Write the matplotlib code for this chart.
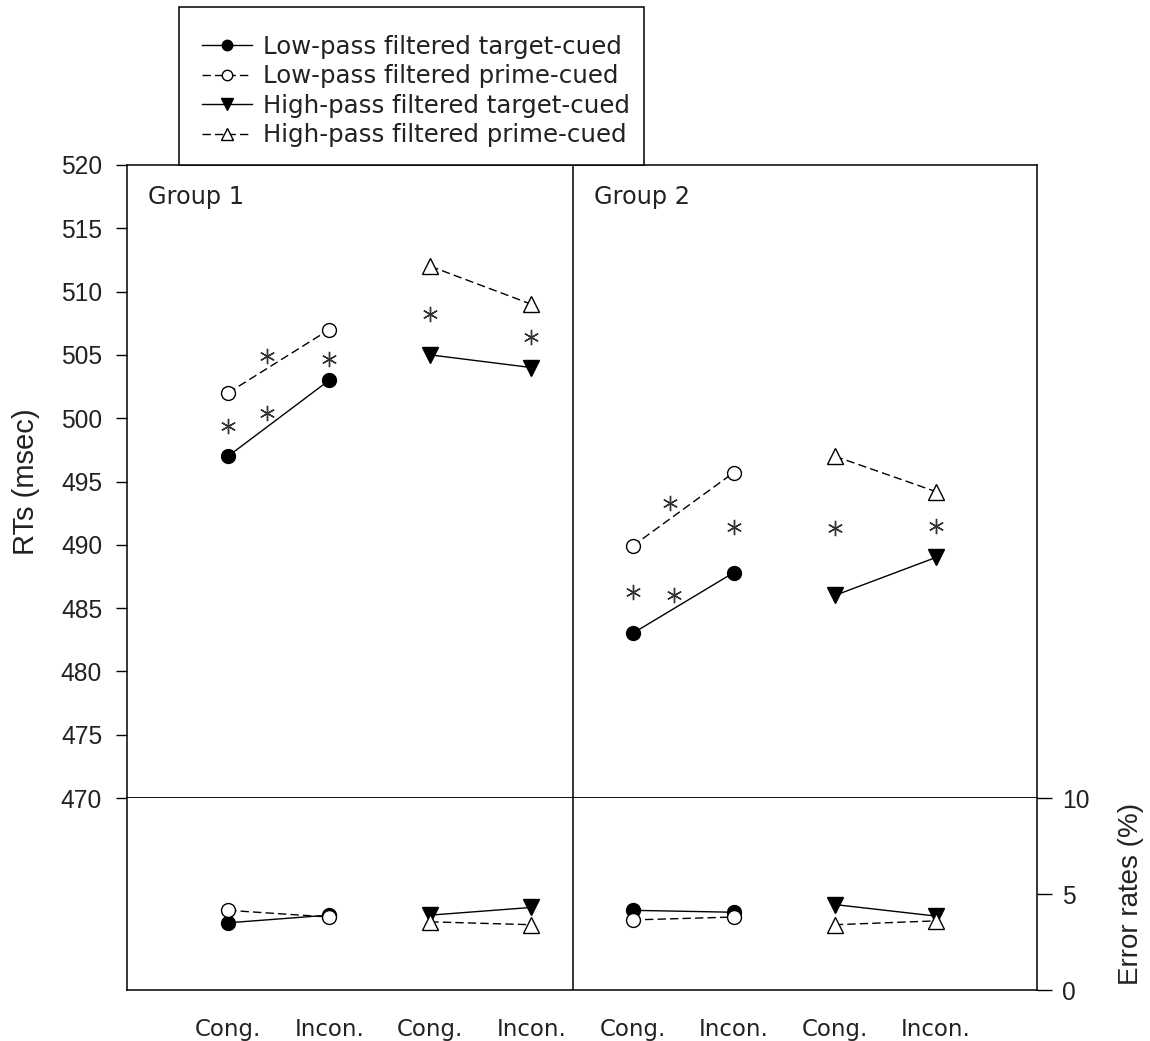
import numpy as np
import matplotlib
matplotlib.use("Agg")
import matplotlib.pyplot as plt
from matplotlib.lines import Line2D
from matplotlib.patches import Rectangle

# ---- data -------------------------------------------------------------
conditions = ["Cong.", "Incon.", "Cong.", "Incon.", "Cong.", "Incon.", "Cong.", "Incon."]
positions = np.arange(1, 9)
nan = np.nan

series_labels = [
    "Low-pass filtered target-cued",
    "Low-pass filtered prime-cued",
    "High-pass filtered target-cued",
    "High-pass filtered prime-cued",
]

# reaction times (msec); low-pass at positions 1,2,5,6 and high-pass at 3,4,7,8
rt_lp_target = [497.0, 503.0, nan, nan, 483.0, 487.8, nan, nan]
rt_lp_prime = [502.0, 507.0, nan, nan, 489.9, 495.7, nan, nan]
rt_hp_target = [nan, nan, 505.0, 504.0, nan, nan, 486.0, 489.0]
rt_hp_prime = [nan, nan, 512.0, 509.0, nan, nan, 497.0, 494.2]

# error rates (%)
er_lp_target = [3.5, 3.9, nan, nan, 4.15, 4.05, nan, nan]
er_lp_prime = [4.15, 3.8, nan, nan, 3.65, 3.8, nan, nan]
er_hp_target = [nan, nan, 3.9, 4.3, nan, nan, 4.45, 3.85]
er_hp_prime = [nan, nan, 3.55, 3.4, nan, nan, 3.4, 3.6]

# significance markers
star_x = [1.0, 1.38, 1.38, 2.0, 3.0, 4.0, 5.0, 5.41, 5.37, 6.0, 7.0, 8.0]
star_y = [499.4, 500.4, 504.9, 504.7, 508.2, 506.4, 486.3, 486.0, 493.3, 491.4, 491.3, 491.5]

rt_ticks = list(range(470, 521, 5))
er_ticks = [0, 5, 10]
group_labels = ["Group 1", "Group 2"]
group_split = 4.41

# ---- layout helpers ---------------------------------------------------
W, H = 1150, 1041
def fx(px):
    return px / W
def fy(py):
    return 1 - py / H

fig = plt.figure(figsize=(W / 100, H / 100), dpi=100)

L, R, T, MID, B = 127, 1037, 165, 798, 990
ax_rt = fig.add_axes([fx(L), fy(MID), fx(R) - fx(L), fy(T) - fy(MID)])
ax_er = fig.add_axes([fx(L), fy(B), fx(R) - fx(L), fy(MID) - fy(B)])

NUM = "Liberation Sans"
TXT = "DejaVu Sans"
LW = 1.1
dash = (0, (6, 3))

styles = [
    dict(marker="o", ms=10, mfc="black", mec="black", ls="-"),
    dict(marker="o", ms=10, mfc="white", mec="black", ls=dash),
    dict(marker="v", ms=11.5, mfc="black", mec="black", ls="-"),
    dict(marker="^", ms=11, mfc="white", mec="black", ls=dash),
]

rt_series = [rt_lp_target, rt_lp_prime, rt_hp_target, rt_hp_prime]
er_series = [er_lp_target, er_lp_prime, er_hp_target, er_hp_prime]

for i, (vals, st) in enumerate(zip(rt_series, styles)):
    ax_rt.plot(positions, vals, color="black", lw=1.0, mew=1.0, zorder=3 + i, **st)
for i, (vals, st) in enumerate(zip(er_series, styles)):
    ax_er.plot(positions, vals, color="black", lw=1.0, mew=1.0, zorder=3 + i, **st)

ax_rt.plot(star_x, star_y, ls="none", marker=(6, 2, 0), ms=11, mew=1.0,
           color="#333333", zorder=8)

# ---- RT panel ---------------------------------------------------------
ax_rt.set_xlim(0, 9)
ax_rt.set_ylim(470, 520)
ax_rt.set_yticks(rt_ticks)
ax_rt.set_xticks([])
ax_rt.tick_params(axis="y", direction="out", length=8, width=1.0, pad=10,
                  labelsize=17.7, labelcolor="#222222")
for lab in ax_rt.get_yticklabels():
    lab.set_fontfamily(NUM)
for s in ax_rt.spines.values():
    s.set_linewidth(LW)
ax_rt.spines["bottom"].set_linewidth(1.3)
ax_rt.axvline(group_split, color="black", lw=LW)

ax_rt.set_ylabel("RTs (msec)", fontsize=21, fontfamily=NUM, color="#222222")
ax_rt.yaxis.set_label_coords((40 - L) / (R - L), 0.5)

for gx, glab in zip([148, 594], group_labels):
    ax_rt.text((gx - L) / (R - L), (MID - 197) / (MID - T), glab,
               transform=ax_rt.transAxes, ha="left", va="center",
               fontsize=17.3, fontfamily=TXT, color="#222222")

# ---- error-rate panel -------------------------------------------------
ax_er.set_xlim(0, 9)
ax_er.set_ylim(0, 10)
ax_er.set_xticks(positions)
ax_er.set_xticklabels(conditions, fontsize=16.5, fontfamily=TXT, color="#222222")
ax_er.tick_params(axis="x", length=0, pad=20)
ax_er.yaxis.tick_right()
ax_er.set_yticks(er_ticks)
ax_er.tick_params(axis="y", direction="out", length=11, width=1.0, pad=7,
                  labelsize=17.7, labelcolor="#222222")
for lab in ax_er.get_yticklabels():
    lab.set_fontfamily(NUM)
for s in ax_er.spines.values():
    s.set_linewidth(LW)
ax_er.spines["top"].set_visible(False)
ax_er.axvline(group_split, color="black", lw=LW)

fig.text(fx(1131), fy((MID + B) / 2), "Error rates (%)", rotation=90,
         ha="center", va="center", fontsize=20, fontfamily=NUM, color="#222222")

# ---- legend -----------------------------------------------------------
fig.add_artist(Rectangle((fx(179), fy(T)), fx(644) - fx(179), fy(7) - fy(T),
                         transform=fig.transFigure, facecolor="white",
                         edgecolor="black", lw=LW, zorder=4))
handles = [Line2D([], [], color="black", lw=1.0, mew=1.0, **st) for st in styles]
leg = fig.legend(handles, series_labels, loc="upper left",
                 bbox_to_anchor=(fx(202), fy(35)), bbox_transform=fig.transFigure,
                 frameon=False, borderpad=0, borderaxespad=0, handlelength=2.05,
                 handletextpad=0.45, labelspacing=0.22, markerscale=0.75,
                 prop={"family": TXT, "size": 17.6})
leg.set_zorder(6)
for t in leg.get_texts():
    t.set_color("#222222")

fig.savefig("out.png", dpi=100)
